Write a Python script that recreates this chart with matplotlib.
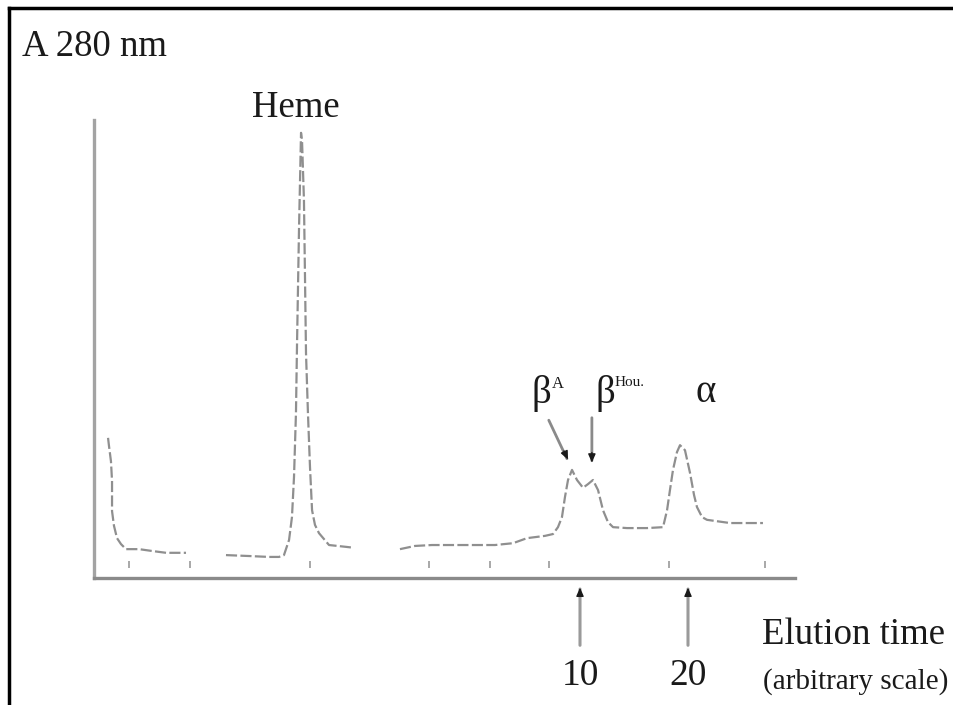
import matplotlib
matplotlib.use("Agg")
import matplotlib.pyplot as plt
from matplotlib.lines import Line2D
import numpy as np

W, H = 954, 705

# ---- data (elution time, arbitrary scale; absorbance at 280 nm, arbitrary) ----
seg1_x = [-33.70, -33.61, -33.43, -33.33, -33.33, -33.15, -32.87, -32.50, -32.04, -30.83, -29.63, -28.33, -26.48]
seg1_y = [30.6, 28.8, 25.5, 21.2, 14.6, 11.4, 8.7, 7.4, 6.3, 6.3, 5.9, 5.5, 5.5]

seg2_x = [-22.78, -20.65, -18.80, -17.87, -17.41, -16.94, -16.67, -16.48, -16.30, -16.20, -16.02, -15.83,
          -15.74, -15.56, -15.46, -15.37, -15.19, -15.00, -14.81, -14.54, -14.17, -13.24, -11.67, -10.93]
seg2_y = [5.0, 4.8, 4.6, 4.6, 5.0, 8.3, 13.3, 22.1, 36.0, 51.3, 75.9, 97.2,
          95.6, 82.5, 65.1, 49.1, 36.0, 24.2, 14.8, 11.6, 9.8, 7.2, 6.8, 6.6]

seg3_x = [-6.67, -5.28, -3.70, -0.19, 2.13, 3.80, 5.09, 6.76, 7.50, 7.96, 8.33, 8.61, 8.89, 9.26,
          9.72, 10.28, 10.74, 11.20, 11.67, 12.13, 12.59, 13.06, 14.35, 16.20, 17.69, 18.06, 18.33,
          18.61, 18.98, 19.26, 19.72, 20.19, 20.56, 20.83, 21.30, 21.76, 23.89, 26.94]
seg3_y = [6.3, 7.0, 7.2, 7.2, 7.2, 7.6, 8.7, 9.2, 9.6, 11.1, 13.3, 17.7, 21.4, 23.6,
          21.4, 19.7, 20.5, 21.4, 19.2, 14.8, 12.2, 11.1, 10.9, 10.9, 11.1, 14.8, 19.2,
          23.6, 27.5, 29.0, 27.9, 22.9, 18.1, 15.5, 13.3, 12.7, 12.0, 12.0]

tick_x = [-31.76, -26.11, -15.00, -3.98, 1.67, 7.13, 18.24, 27.13]
arrow_x = [10, 20]
arrow_labels = ["10", "20"]

# ---- figure ----
fig = plt.figure(figsize=(W / 100, H / 100), dpi=100)
plt.rcParams['font.family'] = ['Liberation Serif', 'DejaVu Serif']

def fx(px):
    return px / W

def fy(py):
    return 1 - py / H

ax_left, ax_right, ax_bottom, ax_top = 94, 795, 578, 120
ax = fig.add_axes([fx(ax_left), fy(ax_bottom), (ax_right - ax_left) / W, (ax_bottom - ax_top) / H])
x0 = (ax_left - 472) / 10.8
x1 = (ax_right - 472) / 10.8
ax.set_xlim(x0, x1)
ax.set_ylim(0, (ax_bottom - ax_top) / 4.58)
for s in ['top', 'right']:
    ax.spines[s].set_visible(False)
ax.spines['left'].set_color('#a3a3a3')
ax.spines['bottom'].set_color('#8a8a8a')
ax.spines['left'].set_linewidth(2.4)
ax.spines['bottom'].set_linewidth(2.4)
ax.set_xticks([])
ax.set_yticks([])
ax.patch.set_alpha(0)

trace_kw = dict(color='#8f8f8f', lw=1.6, ls=(0, (5, 1.5)), solid_capstyle='butt')
ax.plot(seg1_x, seg1_y, **trace_kw)
ax.plot(seg2_x, seg2_y, **trace_kw)
ax.plot(seg3_x, seg3_y, **trace_kw)

ax.vlines(tick_x, 2.2, 3.7, color='#9a9a9a', lw=1.2)

# arrows below the axis at elution 10 and 20
for xv, lab in zip(arrow_x, arrow_labels):
    ax.annotate('', xy=(xv, -1.8), xytext=(xv, -15.3), xycoords='data',
                arrowprops=dict(arrowstyle='-', color='#9a9a9a', lw=2.2), annotation_clip=False)
    ax.annotate('', xy=(xv, -1.5), xytext=(xv, -4.5), xycoords='data',
                arrowprops=dict(arrowstyle='-|>,head_length=0.5,head_width=0.22', color='#1a1a1a', lw=1),
                annotation_clip=False)
    ax.text(xv, -21.4, lab, ha='center', va='center', fontsize=27, color='#1a1a1a', clip_on=False)

# peak labels and arrows
ax.annotate('', xy=(8.9, 25.5), xytext=(7.0, 35.0),
            arrowprops=dict(arrowstyle='-', color='#8a8a8a', lw=2.0), annotation_clip=False)
ax.annotate('', xy=(9.0, 25.3), xytext=(8.4, 28.3),
            arrowprops=dict(arrowstyle='-|>,head_length=0.5,head_width=0.22', color='#1a1a1a', lw=1),
            annotation_clip=False)
ax.annotate('', xy=(11.1, 25.0), xytext=(11.1, 35.6),
            arrowprops=dict(arrowstyle='-', color='#8a8a8a', lw=2.0), annotation_clip=False)
ax.annotate('', xy=(11.1, 24.6), xytext=(11.1, 28.0),
            arrowprops=dict(arrowstyle='-|>,head_length=0.5,head_width=0.22', color='#1a1a1a', lw=1),
            annotation_clip=False)

tc = '#1a1a1a'
fig.text(fx(541), fy(393), 'β', ha='center', va='center', fontsize=28, color=tc)
fig.text(fx(552), fy(384), 'A', ha='left', va='center', fontsize=12, color=tc)
fig.text(fx(605), fy(393), 'β', ha='center', va='center', fontsize=28, color=tc)
fig.text(fx(615), fy(383), 'Hou.', ha='left', va='center', fontsize=11, color=tc)
fig.text(fx(706), fy(392), 'α', ha='center', va='center', fontsize=28, color=tc)

fig.text(fx(296), fy(108), 'Heme', ha='center', va='center', fontsize=26.5, color=tc)
fig.text(fx(22), fy(47), 'A 280 nm', ha='left', va='center', fontsize=26.5, color=tc)
fig.text(fx(762), fy(635), 'Elution time', ha='left', va='center', fontsize=26.5, color=tc)
fig.text(fx(763), fy(682), '(arbitrary scale)', ha='left', va='center', fontsize=21, color=tc)

# outer frame (top and left)
fig.add_artist(Line2D([fx(9), 1.0], [fy(8), fy(8)], color='black', lw=2.5, transform=fig.transFigure))
fig.add_artist(Line2D([fx(9), fx(9)], [fy(8), 0.0], color='black', lw=2.5, transform=fig.transFigure))

fig.savefig('out.png', dpi=100, facecolor='white')
